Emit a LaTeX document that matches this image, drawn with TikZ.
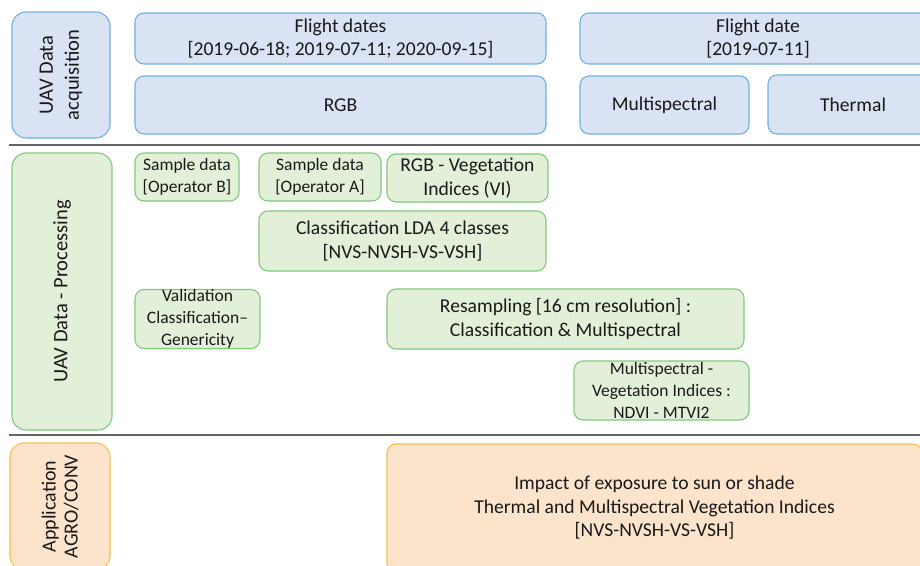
\documentclass[tikz,border=0pt]{standalone}
\usepackage{fontspec}
\setmainfont{Carlito}
\definecolor{bluefill}{RGB}{218,227,243}
\definecolor{bluedraw}{RGB}{112,176,226}
\definecolor{greenfill}{RGB}{226,240,217}
\definecolor{greendraw}{RGB}{128,202,122}
\definecolor{orangefill}{RGB}{252,228,204}
\definecolor{orangedraw}{RGB}{246,192,72}
\definecolor{txt}{RGB}{25,25,25}
\definecolor{sepline}{RGB}{100,100,100}
\begin{document}
\begin{tikzpicture}[x=1pt,y=-1pt,
  box/.style={draw, rounded corners=9pt, line width=1.1pt, inner sep=0pt,
    align=center, text=txt, anchor=center},
  bigtext/.style={font=\fontsize{19.6}{23.5}\selectfont},
  smalltext/.style={font=\fontsize{17.5}{22}\selectfont},
  bluebox/.style={box, draw=bluedraw, fill=bluefill, bigtext},
  greenbox/.style={box, draw=greendraw, fill=greenfill, bigtext},
  greensmall/.style={box, draw=greendraw, fill=greenfill, smalltext},
  orangebox/.style={box, draw=orangedraw, fill=orangefill, bigtext},
  sidebox/.style={rotate=90, rounded corners=14pt, font=\fontsize{20.5}{26}\selectfont},
  sep/.style={draw=sepline, line width=1.3pt}
]
\useasboundingbox (0,0) rectangle (920,565);
\clip (0,0) rectangle (920,565);

% --- UAV data acquisition
\node[bluebox, sidebox, minimum width=126pt, minimum height=98pt] (acq) at (61,75) {UAV Data\\acquisition};
\node[bluebox, minimum width=411pt, minimum height=51pt] (fd) at (340.5,38.5) {Flight dates\\{[}2019-06-18; 2019-07-11; 2020-09-15{]}};
\node[bluebox, minimum width=411pt, minimum height=58pt] (rgb) at (340.5,105) {RGB};
\node[bluebox, minimum width=356pt, minimum height=51pt] (fd2) at (758,38.5) {Flight date\\{[}2019-07-11{]}};
\node[bluebox, minimum width=169pt, minimum height=58pt] (ms) at (664.5,105) {Multispectral};
\node[bluebox, minimum width=170pt, minimum height=59pt] (th) at (853,104.5) {Thermal};

\coordinate (l1a) at (9,145);
\coordinate (l1b) at (920,145);
\draw[sep] (l1a) -- (l1b);

% --- Processing
\node[greenbox, sidebox, minimum width=277pt, minimum height=100pt] (proc) at (62,291.5) {UAV Data - Processing};
\node[greensmall, minimum width=104pt, minimum height=48pt] (sb) at (187,177) {Sample data\\{[}Operator B{]}};
\node[greensmall, minimum width=122pt, minimum height=48pt] (sa) at (320,177) {Sample data\\{[}Operator A{]}};
\node[greenbox, minimum width=161pt, minimum height=48pt] (vi) at (467.5,178) {RGB - Vegetation\\Indices (VI)};
\node[greenbox, minimum width=287pt, minimum height=60pt] (lda) at (402.5,241) {Classification LDA 4 classes\\{[}NVS-NVSH-VS-VSH{]}};
\node[greensmall, minimum width=125pt, minimum height=57pt] (val) at (197.5,319) {Validation\\Classification–\\Genericity};
\node[greenbox, minimum width=357pt, minimum height=60pt] (res) at (565.5,319) {Resampling {[}16 cm resolution{]} :\\Classification \& Multispectral};
\node[greensmall, minimum width=175pt, minimum height=59pt] (msvi) at (661.5,390.5) {Multispectral -\\Vegetation Indices :\\NDVI - MTVI2};

\coordinate (l2a) at (9,435);
\coordinate (l2b) at (920,435);
\draw[sep] (l2a) -- (l2b);

% --- Application
\node[orangebox, sidebox, minimum width=127pt, minimum height=100pt, font=\fontsize{20}{22}\selectfont] (app) at (60,506.5) {Application\\AGRO/CONV};
\node[orangebox, minimum width=535pt, minimum height=128pt] (imp) at (654.5,508) {Impact of exposure to sun or shade\\Thermal and Multispectral Vegetation Indices\\{[}NVS-NVSH-VS-VSH{]}};
\end{tikzpicture}
\end{document}
